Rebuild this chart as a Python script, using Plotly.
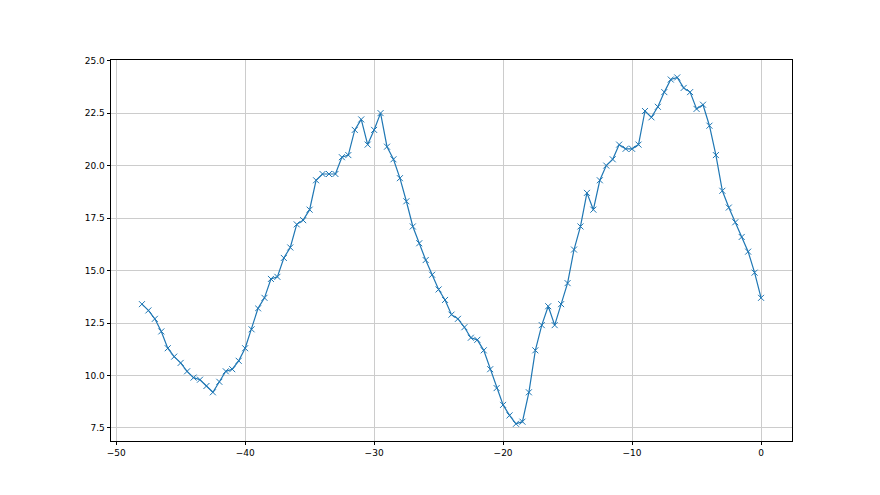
import plotly.graph_objects as go

x_values = [i * 0.5 for i in range(-96, 1)]
y_values = [
    13.4, 13.1, 12.7, 12.1, 11.3, 10.9, 10.6, 10.2, 9.9, 9.8, 9.5, 9.2, 9.7, 10.2, 10.3, 10.7, 11.3,
    12.2, 13.2, 13.7, 14.6, 14.7, 15.6, 16.1, 17.2, 17.4, 17.9, 19.3, 19.6, 19.6, 19.6, 20.4, 20.5,
    21.7, 22.2, 21.0, 21.7,
    22.5, 20.9, 20.3, 19.4, 18.3, 17.1, 16.3, 15.5, 14.8, 14.1, 13.6, 12.9, 12.7, 12.3, 11.8, 11.7,
    11.2, 10.3, 9.4, 8.6,
    8.1, 7.7, 7.8, 9.2, 11.2, 12.4, 13.3, 12.4, 13.4, 14.4, 16.0, 17.1, 18.7, 17.9, 19.3, 20.0,
    20.3, 21.0, 20.8, 20.8,
    21.0, 22.6, 22.3, 22.8, 23.5, 24.1, 24.2, 23.7, 23.5, 22.7, 22.9, 21.9, 20.5, 18.8, 18.0, 17.3,
    16.6, 15.9, 14.9, 13.7,
]
x_ticks = [-50, -40, -30, -20, -10, 0]
y_ticks = [7.5, 10.0, 12.5, 15.0, 17.5, 20.0, 22.5, 25.0]

fig = go.Figure(
    go.Scatter(
        x=x_values,
        y=y_values,
        mode="lines+markers",
        line=dict(color="#1f77b4", width=1.2),
        marker=dict(symbol="x-thin", size=6, line=dict(color="#1f77b4", width=1), color="#1f77b4"),
    )
)

axis_common = dict(
    showline=True,
    mirror=True,
    linecolor="black",
    linewidth=0.8,
    ticks="outside",
    ticklen=3.5,
    tickwidth=0.8,
    tickcolor="black",
    showgrid=True,
    gridcolor="#cccccc",
    gridwidth=0.8,
    zeroline=False,
    tickfont=dict(family="DejaVu Sans", size=9, color="black"),
)

fig.update_xaxes(range=[-50.4, 2.4], tickvals=x_ticks, **axis_common)
fig.update_yaxes(range=[6.88, 25.03], tickvals=y_ticks, tickformat=".1f", **axis_common)

fig.update_layout(
    width=880,
    height=495,
    margin=dict(l=103, r=96, t=52, b=62),
    paper_bgcolor="white",
    plot_bgcolor="white",
    showlegend=False,
    font=dict(family="DejaVu Sans", size=9, color="black"),
)

fig.write_html("out.html")
